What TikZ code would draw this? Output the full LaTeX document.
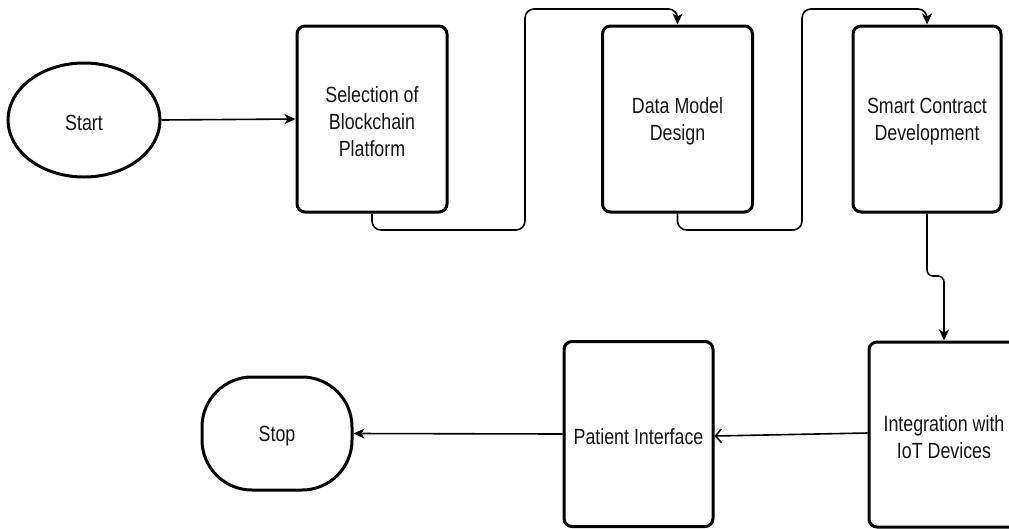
\documentclass[tikz,border=0pt]{standalone}
\usepackage{fontspec}
\setmainfont{Liberation Sans}[FakeStretch=0.81]
\usetikzlibrary{arrows.meta,shapes.geometric}
\definecolor{txt}{HTML}{151515}
\tikzset{
  stepbox/.style={draw=black, line width=3pt, rounded corners=8pt, minimum width=150pt,
    minimum height=186pt, inner sep=0pt},
  termnode/.style={draw=black, line width=3pt, inner sep=0pt},
  lbl/.style={align=center, inner sep=0pt, text=txt, font=\fontsize{22}{27}\selectfont},
  conn/.style={draw=black, line width=1.6pt, rounded corners=9pt},
  tip/.style={-{Stealth[length=11pt,width=10pt,inset=3pt]}},
  opentip/.style={-{Straight Barb[length=6pt,width=14pt,line width=1.5pt]}}
}
\begin{document}
\begin{tikzpicture}[x=1pt,y=-1pt]
\useasboundingbox (0,0) rectangle (1009,528);
\clip (0,0) rectangle (1009,528);
\fill[white] (0,0) rectangle (1009,528);

\node[termnode, ellipse, minimum width=152pt, minimum height=114pt] (start) at (84,120) {};
\node[stepbox] (sel) at (372,119) {};
\node[stepbox] (dm) at (677.5,119) {};
\node[stepbox, minimum width=148pt] (sc) at (927,119) {};
\node[stepbox, minimum height=185pt] (iot) at (944,434.5) {};
\node[stepbox, minimum height=185pt, minimum width=149pt] (pat) at (638.5,434) {};
\node[termnode, rectangle, rounded corners=50pt, minimum width=150pt, minimum height=113pt] (stop) at (277,433.5) {};

\node[lbl] (startT) at ([yshift=-2.5pt]start.center) {Start};
\node[lbl] (selT) at ([yshift=-2.5pt]sel.center) {Selection of\\Blockchain\\Platform};
\node[lbl] (dmT) at ([yshift=-2.5pt]dm.center) {Data Model\\Design};
\node[lbl] (scT) at ([yshift=-2.5pt]sc.center) {Smart Contract\\Development};
\node[lbl] (iotT) at ([yshift=-2.5pt]iot.center) {Integration with\\IoT Devices};
\node[lbl] (patT) at ([yshift=-2.5pt]pat.center) {Patient Interface};
\node[lbl] (stopT) at ([yshift=-3pt]stop.center) {Stop};

\draw[conn, tip] (start.east) -- (sel.west);
\draw[conn, tip] (sel.south) -- (sel.south |- 0,230) -- (525,230) -- (525,9) -- (dm.north |- 0,9) -- (dm.north);
\draw[conn, tip] (dm.south) -- (dm.south |- 0,230) -- (802,230) -- (802,9) -- (sc.north |- 0,9) -- (sc.north);
\draw[conn, tip, rounded corners=6pt] (sc.south) -- (927,276) -- (944,276) -- (iot.north);
\draw[conn, opentip, rounded corners=0pt] ([yshift=1.5pt]iot.west) -- ([yshift=-2pt]pat.east);
\draw[conn, tip, rounded corners=0pt] (pat.west) -- (stop.east);
\end{tikzpicture}
\end{document}
